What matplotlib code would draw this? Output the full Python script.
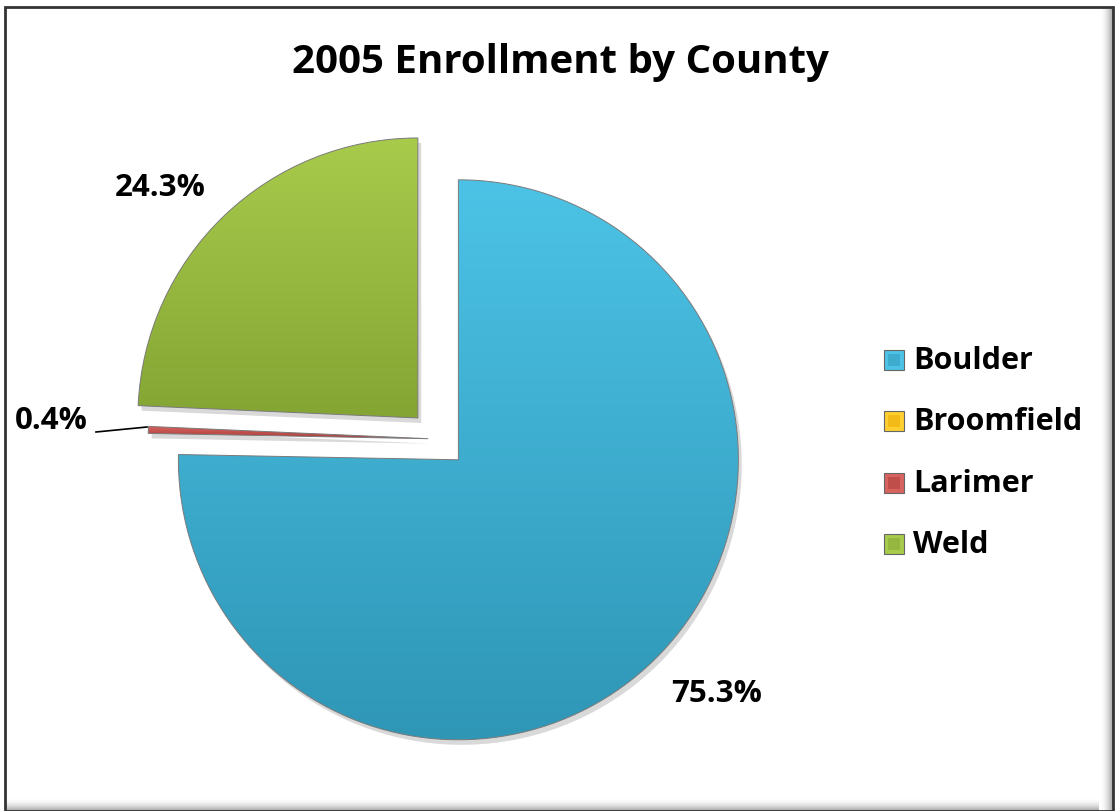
import matplotlib.pyplot as plt
import matplotlib.patches as mpatches
import numpy as np

counties = ["Boulder", "Broomfield", "Larimer", "Weld"]
shares = [75.3, 0.0, 0.4, 24.3]
pct_labels = ["75.3%", "", "0.4%", "24.3%"]
top_colors = ["#4cc3e6", "#ffd030", "#d8625e", "#a8cb4c"]
bottom_colors = ["#2f96b6", "#e8a800", "#a83c3a", "#84a533"]
base_colors = ["#3cb0d6", "#ffc000", "#c0504d", "#98bb42"]

W, H = 1116, 812
CX, CY, R = 438, 440, 280

plt.rcParams['font.family'] = ['Open Sans', 'DejaVu Sans']

fig = plt.figure(figsize=(W / 100, H / 100), dpi=100)
ax = fig.add_axes([0, 0, 1, 1])
ax.set_aspect('equal')
ax.axis('off')


def px(x, y):
    # pixel (from top-left) -> data coords
    return (x - CX) / R, (CY - y) / R


wedges, _ = ax.pie(shares, colors=base_colors, startangle=90, counterclock=False,
                   explode=[0.104, 0.104, 0.035, 0.104], radius=1.0,
                   wedgeprops=dict(edgecolor='#7a7a7a', linewidth=0.7))

# soft shadow + vertical gradient clipped to each wedge
grad = np.linspace(0, 1, 256).reshape(-1, 1)
for w, c0, c1 in zip(wedges, top_colors, bottom_colors):
    if w.theta2 - w.theta1 <= 0:
        w.set_visible(False)   # zero slice (Broomfield) draws nothing
        continue
    sh = mpatches.Wedge((w.center[0] + 0.012, w.center[1] - 0.018), w.r, w.theta1, w.theta2,
                        facecolor='#000000', alpha=0.15, edgecolor='none', zorder=0.5)
    ax.add_patch(sh)
    bb = w.get_path().get_extents(w.get_transform()).transformed(ax.transData.inverted())
    a = np.array(plt.matplotlib.colors.to_rgb(c0))
    b = np.array(plt.matplotlib.colors.to_rgb(c1))
    img = a[None, None, :] * (1 - grad[:, :, None]) + b[None, None, :] * grad[:, :, None]
    im = ax.imshow(img, extent=[bb.x0, bb.x1, bb.y0, bb.y1], origin='upper',
                   aspect='auto', zorder=1.5, interpolation='bilinear')
    im.set_clip_path(w)
    w.set_zorder(2)
    w.set_facecolor('none')

ax.set_xlim(-CX / R, (W - CX) / R)
ax.set_ylim((CY - H) / R, CY / R)

# percentage labels
label_pos = {0: (717, 694), 2: (51, 421), 3: (160, 188)}
for i, (x, y) in label_pos.items():
    ax.text(*px(x, y), pct_labels[i], fontsize=22.5, fontweight='bold',
            ha='center', va='center', zorder=5)

# leader line for the thin slice
lx = np.array([96, 147])
ly = np.array([433, 428])
ax.plot(*px(lx, ly), color='black', lw=1.2, zorder=5)

fig.text(560 / W, 1 - 62 / H, "2005 Enrollment by County", fontsize=29,
         fontweight='bold', ha='center', va='center')

# legend
row_y = [361, 422, 484, 545]
for name, c0, c1, y in zip(counties, top_colors, bottom_colors, row_y):
    x0, y0 = px(884, y + 10)
    s = 20 / R
    ax.add_patch(mpatches.Rectangle((x0, y0), s, s, facecolor=c0, edgecolor='#666666',
                                    lw=0.8, zorder=5))
    ax.add_patch(mpatches.Rectangle((x0 + s * 0.2, y0 + s * 0.2), s * 0.6, s * 0.6,
                                    facecolor=c1, edgecolor='none', alpha=0.5, zorder=6))
    ax.text(*px(913, y), name, fontsize=22, fontweight='bold', ha='left',
            va='center', zorder=5)

# chart frame with bevelled right / bottom edge
for k in range(14):
    g = 1 - 0.35 * (k / 13) ** 2
    fig.add_artist(mpatches.Rectangle(((1099 + k) / W, 0), 1 / W, 1 - 8 / H,
                                      transform=fig.transFigure, facecolor=(g, g, g),
                                      edgecolor='none'))
    fig.add_artist(mpatches.Rectangle((5 / W, (13 - k) / H), 1094 / W, 1 / H,
                                      transform=fig.transFigure, facecolor=(g, g, g),
                                      edgecolor='none'))
fig.add_artist(mpatches.Rectangle((5 / W, 0), 1108 / W, 1 - 8 / H, transform=fig.transFigure,
                                  fill=False, edgecolor='#333333', lw=2))

fig.savefig("out.png", dpi=100)
